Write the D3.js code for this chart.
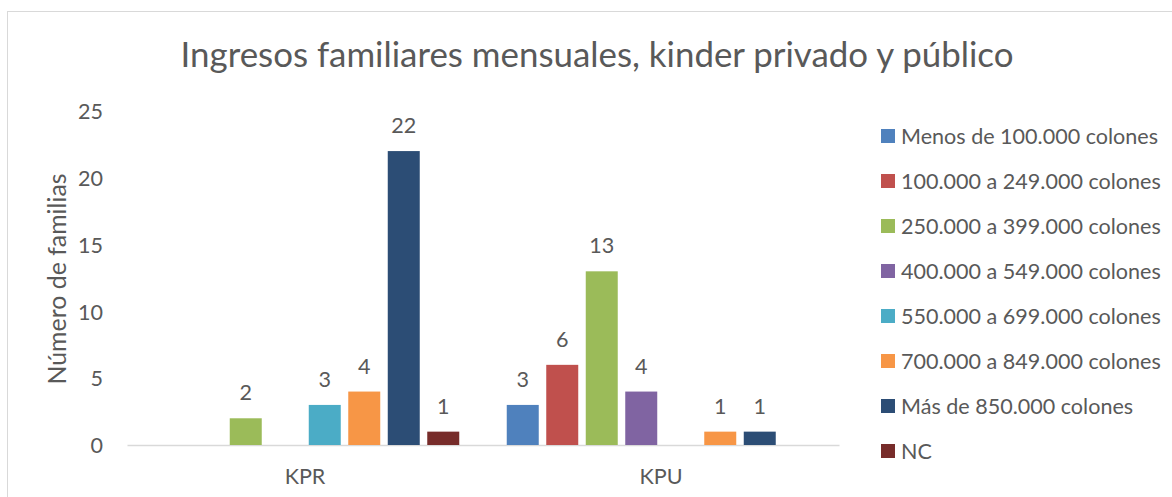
<!DOCTYPE html>
<html>
<head>
<meta charset="utf-8">
<script src="https://cdn.jsdelivr.net/npm/d3@7"></script>
<style>
  html, body { margin: 0; padding: 0; background: #fff; }
  svg { display: block; }
  text { font-family: Lato, "Open Sans", sans-serif; fill: #595959; }
</style>
</head>
<body>
<svg id="chart" width="1172" height="497"></svg>
<script>
const titleText = "Ingresos familiares mensuales, kinder privado y público";
const yAxisTitle = "Número de familias";
const categories = ["KPR", "KPU"];
const seriesNames = [
  "Menos de 100.000 colones",
  "100.000 a 249.000 colones",
  "250.000 a 399.000 colones",
  "400.000 a 549.000 colones",
  "550.000 a 699.000 colones",
  "700.000 a 849.000 colones",
  "Más de 850.000 colones",
  "NC"
];
const seriesColors = ["#4F81BD", "#C0504D", "#9BBB59", "#8064A2", "#4BACC6", "#F79646", "#2C4D75", "#772C2A"];
const valuesKPR = [null, null, 2, null, 3, 4, 22, 1];
const valuesKPU = [3, 6, 13, 4, null, 1, 1, null];
const yTicks = [0, 5, 10, 15, 20, 25];

const values = [valuesKPR, valuesKPU];
const svg = d3.select("#chart");

// chart border
svg.append("rect").attr("x", 7.5).attr("y", 11.5).attr("width", 1300).attr("height", 600)
  .attr("fill", "none").attr("stroke", "#d9d9d9").attr("stroke-width", 1);

const plot = { left: 127, right: 839, top: 111, bottom: 445 };

const x0 = d3.scaleBand().domain(categories).range([plot.left, plot.right]).padding(0);
const x1 = d3.scaleBand().domain(d3.range(seriesNames.length))
  .range([23.75, x0.bandwidth() - 23.75]).paddingInner(0.19).paddingOuter(0);
const y = d3.scaleLinear().domain([0, 25]).range([plot.bottom, plot.top]);
const color = d3.scaleOrdinal().domain(d3.range(seriesNames.length)).range(seriesColors);

// legend first (to compute font size)
const legend = svg.append("g");
const legendRows = legend.selectAll("g").data(seriesNames).enter().append("g")
  .attr("transform", (d, i) => `translate(881, ${136 + i * 45})`);
legendRows.append("rect").attr("x", 0).attr("y", -7).attr("width", 14).attr("height", 14)
  .attr("fill", (d, i) => color(i));
const legendTexts = legendRows.append("text").attr("x", 20).attr("dy", "0.36em")
  .attr("font-size", 20).text(d => d);
let maxW = 0;
legendTexts.each(function () { maxW = Math.max(maxW, this.getComputedTextLength()); });
const fs = 20 * 260 / maxW;
legendTexts.attr("font-size", fs);

// title
const title = svg.append("text").attr("x", 597).attr("y", 67).attr("text-anchor", "middle")
  .attr("font-size", 30).text(titleText);
const tw = title.node().getComputedTextLength();
title.attr("font-size", 30 * 833 / tw);

// y axis
const yAxis = svg.append("g").attr("transform", `translate(${plot.left},0)`)
  .call(d3.axisLeft(y).tickValues(yTicks).tickSize(0).tickPadding(24));
yAxis.select(".domain").remove();
yAxis.selectAll("text").attr("font-size", fs).attr("font-family", null).attr("fill", "#595959").attr("dy", "0.36em");

// x axis
const xAxis = svg.append("g").attr("transform", `translate(0,${plot.bottom})`)
  .call(d3.axisBottom(x0).tickSize(0).tickSizeOuter(0).tickPadding(39));
xAxis.select(".domain").attr("stroke", "#d9d9d9").attr("stroke-width", 1.5);
xAxis.selectAll("text").attr("font-size", fs).attr("font-family", null).attr("fill", "#595959").attr("dy", 0);

// y axis title
const yTitle = svg.append("text").attr("transform", `translate(57,${(plot.top + plot.bottom) / 2 + 1}) rotate(-90)`)
  .attr("text-anchor", "middle").attr("dy", "0.36em").attr("font-size", fs).text(yAxisTitle);
const yw = yTitle.node().getComputedTextLength();
yTitle.attr("font-size", fs * 211 / yw);

// bars
const groups = svg.append("g").selectAll("g").data(categories).enter().append("g")
  .attr("transform", d => `translate(${x0(d)},0)`);
const cells = groups.selectAll("g").data((c, ci) => values[ci].map((v, si) => ({ v, si })).filter(d => d.v !== null))
  .enter().append("g");
cells.append("rect")
  .attr("x", d => x1(d.si)).attr("width", x1.bandwidth())
  .attr("y", d => y(d.v)).attr("height", d => y(0) - y(d.v))
  .attr("fill", d => color(d.si));
cells.append("text")
  .attr("x", d => x1(d.si) + x1.bandwidth() / 2)
  .attr("y", d => y(d.v) - 18)
  .attr("text-anchor", "middle").attr("font-size", fs).text(d => d.v);
</script>
</body>
</html>
